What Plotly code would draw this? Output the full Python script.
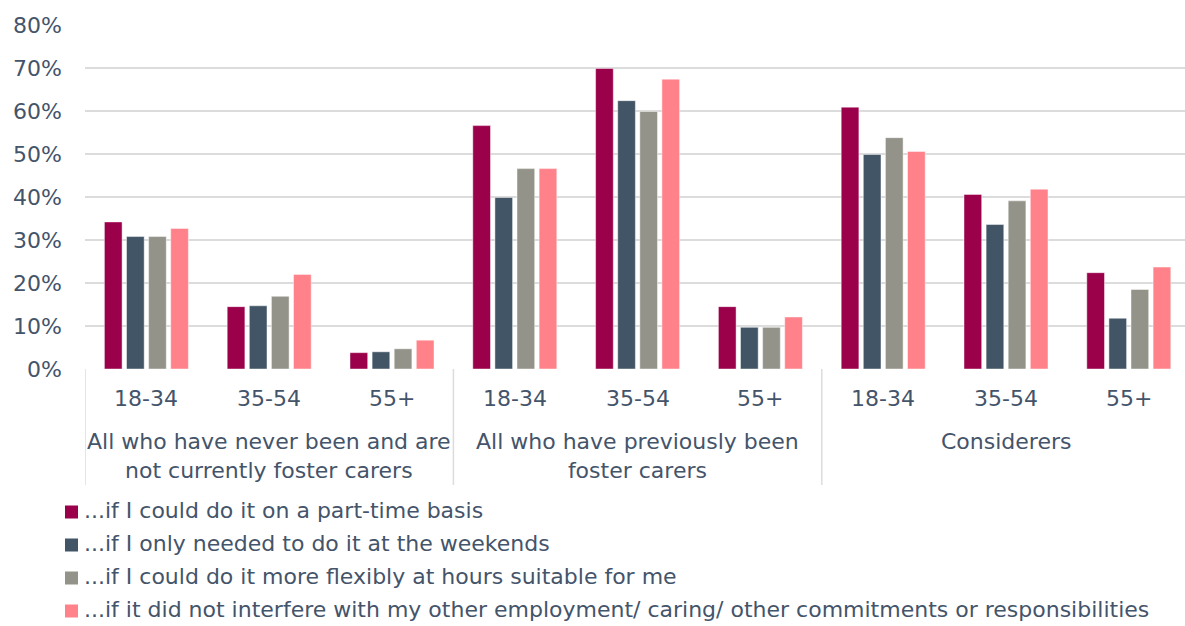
import plotly.graph_objects as go

# Age bands shown under each bar group, and the three respondent segments
age_bands = ["18-34", "35-54", "55+", "18-34", "35-54", "55+", "18-34", "35-54", "55+"]
segments = [
    "All who have never been and are<br>not currently foster carers",
    "All who have previously been<br>foster carers",
    "Considerers",
]

series_names = [
    "...if I could do it on a part-time basis",
    "...if I only needed to do it at the weekends",
    "...if I could do it more flexibly at hours suitable for me",
    "...if it did not interfere with my other employment/ caring/ other commitments or responsibilities",
]

part_time = [0.342, 0.145, 0.038, 0.566, 0.699, 0.145, 0.609, 0.406, 0.224]
weekends = [0.308, 0.147, 0.040, 0.399, 0.624, 0.097, 0.499, 0.336, 0.118]
flexible = [0.308, 0.169, 0.047, 0.466, 0.599, 0.097, 0.538, 0.391, 0.185]
no_interference = [0.327, 0.220, 0.067, 0.466, 0.674, 0.121, 0.506, 0.418, 0.237]

series_values = [part_time, weekends, flexible, no_interference]
series_colors = ["#9B004B", "#425566", "#93938A", "#FF828A"]

TEXT = "#44546A"
GRID = "#DCDCDC"
FONT = "DejaVu Sans, Verdana, sans-serif"
FONT_SIZE = 22

W, H = 1185, 626
M_L, M_R, M_T, M_B = 85, 0, 25, 257
plot_h = H - M_T - M_B
plot_w = W - M_L - M_R
group_px = 122.8  # horizontal pixels per age-band group


def below_axis(px):
    """Paper y coordinate for a point px pixels below the x axis."""
    return -px / plot_h


def paper_x(px):
    """Paper x coordinate for an absolute pixel column."""
    return (px - M_L) / plot_w


positions = list(range(len(age_bands)))

fig = go.Figure()
for name, vals, col in zip(series_names, series_values, series_colors):
    fig.add_trace(go.Bar(
        x=positions, y=vals, name=name, showlegend=False,
        marker=dict(color=col, line=dict(color="rgba(255,255,255,0.45)", width=1)),
    ))

annotations = []
for pos, band in zip(positions, age_bands):
    annotations.append(dict(
        x=pos, y=below_axis(29), xref="x", yref="paper", text=band,
        showarrow=False, xanchor="center", yanchor="middle",
        font=dict(size=FONT_SIZE, color=TEXT, family=FONT),
    ))
for i, seg in enumerate(segments):
    annotations.append(dict(
        x=3 * i + 1, y=below_axis(58), xref="x", yref="paper", text=seg,
        showarrow=False, xanchor="center", yanchor="top",
        font=dict(size=FONT_SIZE, color=TEXT, family=FONT),
    ))

shapes = []
for b in [-0.5, 2.5, 5.5]:
    shapes.append(dict(
        type="line", xref="x", yref="paper", x0=b, x1=b,
        y0=0, y1=below_axis(116), line=dict(color=GRID, width=1.5),
    ))

# Legend: colour swatch plus series label, one row per series
legend_row_px = [510, 543, 576, 609]
for name, col, row in zip(series_names, series_colors, legend_row_px):
    off = row - (M_T + plot_h)
    shapes.append(dict(
        type="rect", xref="paper", yref="paper",
        x0=paper_x(65), x1=paper_x(78),
        y0=below_axis(off + 2 - 6.5), y1=below_axis(off + 2 + 6.5),
        fillcolor=col, line=dict(width=0),
    ))
    annotations.append(dict(
        x=paper_x(82), y=below_axis(off), xref="paper", yref="paper",
        text=name, showarrow=False, xanchor="left", yanchor="middle",
        font=dict(size=FONT_SIZE, color=TEXT, family=FONT),
    ))

fig.update_layout(
    width=W, height=H,
    margin=dict(l=M_L, r=M_R, t=M_T, b=M_B, pad=0),
    paper_bgcolor="white", plot_bgcolor="white",
    barmode="group", bargap=0.28, bargroupgap=0.2,
    font=dict(family=FONT, color=TEXT, size=FONT_SIZE),
    showlegend=False,
    xaxis=dict(
        range=[-0.5, -0.5 + plot_w / group_px], showticklabels=False,
        showgrid=False, zeroline=False, showline=False, fixedrange=True,
    ),
    yaxis=dict(
        range=[0, 0.8], tickvals=[i / 10 for i in range(9)], tickformat=".0%",
        showgrid=True, gridcolor=GRID, gridwidth=1.5, zeroline=False,
        showline=False, ticks="", ticklabelstandoff=22,
        tickfont=dict(size=FONT_SIZE, color=TEXT, family=FONT),
    ),
    annotations=annotations, shapes=shapes,
)

fig.write_html("out.html")
